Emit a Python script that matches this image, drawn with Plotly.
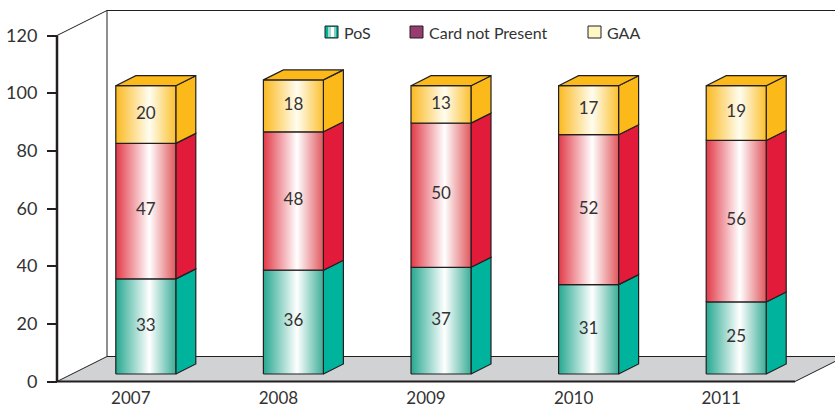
import plotly.graph_objects as go

# ---- data -------------------------------------------------------------
years = ["2007", "2008", "2009", "2010", "2011"]
pos = [33, 36, 37, 31, 25]
card_not_present = [47, 48, 50, 52, 56]
gaa = [20, 18, 13, 17, 19]
series_names = ["PoS", "Card not Present", "GAA"]
y_ticks = [0, 20, 40, 60, 80, 100, 120]

# ---- styling ----------------------------------------------------------
FONT = "Lato, 'Open Sans', sans-serif"
INK = "#231f20"
TEXT = "#333333"
side_colors = ["#00b39c", "#e31b3b", "#fbb91a"]
edge_left = ["#26a890", "#e23a48", "#fbb920"]
edge_right = ["#3cae98", "#e0585e", "#fbc030"]
centre_white = ["#ffffff", "#ffffff", "#fffdf0"]
legend_swatch = ["#00b39c", "#963c6f", "#fcf7c4"]

# ---- frame geometry (pixel scale of the axes) -------------------------
W, H = 835, 408
M_L, M_R, M_T, M_B = 50, 0, 2, 22
plot_w, plot_h = W - M_L - M_R, H - M_T - M_B
px_x = 147.6          # pixels per category
px_y = 2.8833         # pixels per value unit
origin_px = (57, 381.5)

x_lo = -0.5 - (origin_px[0] - M_L) / px_x
x_hi = x_lo + plot_w / px_x
y_lo = -((H - M_B) - origin_px[1]) / px_y
y_hi = y_lo + plot_h / px_y

depth_x = 50 / px_x    # receding depth of the box
depth_y = 25 / px_y
bar_w = 60 / px_x
bar_front = 0.3        # bars sit between 30% and 70% of the depth
bar_depth = 0.4

n = len(years)
x_left, x_right = -0.5, n - 0.5
y_top = y_ticks[-1]

fig = go.Figure()

# ---- bars -------------------------------------------------------------
stacks = [pos, card_not_present, gaa]
label_x, label_y, label_t = [], [], []
for i in range(n):
    cx = i + bar_front * depth_x
    xl, xr = cx - bar_w / 2, cx + bar_w / 2
    base = bar_front * depth_y
    bdx, bdy = bar_depth * depth_x, bar_depth * depth_y
    cum = 0
    for s, vals in enumerate(stacks):
        v = vals[i]
        y0, y1 = base + cum, base + cum + v
        # side face
        fig.add_trace(go.Scatter(
            x=[xr, xr + bdx, xr + bdx, xr, xr],
            y=[y0, y0 + bdy, y1 + bdy, y1, y0],
            mode="lines", fill="toself", fillcolor=side_colors[s],
            line=dict(color=INK, width=1.2),
            hoverinfo="skip", showlegend=False))
        # front face with a cylindrical sheen
        fig.add_trace(go.Scatter(
            x=[xl, xr, xr, xl, xl],
            y=[y0, y0, y1, y1, y0],
            mode="lines", fill="toself",
            fillgradient=dict(type="horizontal",
                              colorscale=[[0, edge_left[s]],
                                          [0.56, centre_white[s]],
                                          [1, edge_right[s]]]),
            line=dict(color=INK, width=1.2),
            hoverinfo="skip", showlegend=False))
        label_x.append(cx)
        label_y.append((y0 + y1) / 2)
        label_t.append(str(v))
        cum += v
    # top face of the stack
    yt = base + cum
    fig.add_trace(go.Scatter(
        x=[xl, xr, xr + bdx, xl + bdx, xl],
        y=[yt, yt, yt + bdy, yt + bdy, yt],
        mode="lines", fill="toself", fillcolor=side_colors[-1],
        line=dict(color=INK, width=1.2),
        hoverinfo="skip", showlegend=False))

fig.add_trace(go.Scatter(
    x=label_x, y=label_y, text=label_t, mode="text",
    textfont=dict(family=FONT, size=17, color=TEXT),
    hoverinfo="skip", showlegend=False))

# ---- box: floor, side wall, back wall, axis lines ---------------------
shapes = []
shapes.append(dict(type="path", xref="x", yref="y", layer="below",
                   path=(f"M{x_left},0 L{x_left + depth_x},{depth_y} "
                         f"L{x_right + depth_x},{depth_y} L{x_right},0 Z"),
                   fillcolor="#d1d2d4", line=dict(color=INK, width=1)))
for (xa, ya, xb, yb) in [
        (x_left + depth_x, depth_y, x_left + depth_x, y_top + depth_y),
        (x_left, y_top, x_left + depth_x, y_top + depth_y),
        (x_left + depth_x, y_top + depth_y, x_right + depth_x, y_top + depth_y)]:
    shapes.append(dict(type="line", xref="x", yref="y", layer="below",
                       x0=xa, y0=ya, x1=xb, y1=yb,
                       line=dict(color=INK, width=1)))
shapes.append(dict(type="line", xref="x", yref="y", layer="below",
                   x0=x_left, y0=0, x1=x_left, y1=y_top,
                   line=dict(color=INK, width=2.5)))
shapes.append(dict(type="line", xref="x", yref="y", layer="below",
                   x0=x_left, y0=0, x1=x_right, y1=0,
                   line=dict(color=INK, width=2)))

# ---- legend -----------------------------------------------------------
def px2paper_x(px):
    return (px - M_L) / plot_w


def px2paper_y(py):
    return (H - M_B - py) / plot_h


legend_px = [325, 410, 588]
sw_top, sw_bot = 26, 38
annotations = []
for k, name in enumerate(series_names):
    x0p = legend_px[k]
    shapes.append(dict(type="rect", xref="paper", yref="paper",
                       x0=px2paper_x(x0p), x1=px2paper_x(x0p + 13),
                       y0=px2paper_y(sw_bot), y1=px2paper_y(sw_top),
                       fillcolor=legend_swatch[k],
                       line=dict(color=INK, width=1)))
    if k == 0:
        # sheen strip on the PoS swatch
        for (a, b, c) in [(3, 6, "#9fdcd0"), (6, 9, "#ffffff"), (9, 11, "#7fd0c0")]:
            shapes.append(dict(type="rect", xref="paper", yref="paper",
                               x0=px2paper_x(x0p + a), x1=px2paper_x(x0p + b),
                               y0=px2paper_y(sw_bot - 1), y1=px2paper_y(sw_top + 1),
                               fillcolor=c, line=dict(width=0)))
    annotations.append(dict(xref="paper", yref="paper",
                            x=px2paper_x(x0p + 17), y=px2paper_y(32),
                            xanchor="left", yanchor="middle",
                            text=name, showarrow=False,
                            font=dict(family=FONT, size=16, color=TEXT)))

# ---- layout -----------------------------------------------------------
fig.update_layout(
    width=W, height=H,
    margin=dict(l=M_L, r=M_R, t=M_T, b=M_B),
    paper_bgcolor="white", plot_bgcolor="white",
    shapes=shapes, annotations=annotations,
    showlegend=False,
    xaxis=dict(range=[x_lo, x_hi], tickvals=list(range(n)), ticktext=years,
               ticks="", showgrid=False, zeroline=False, showline=False,
               anchor="free", position=px2paper_y(origin_px[1]),
               tickfont=dict(family=FONT, size=17, color=TEXT),
               ticklabelstandoff=4),
    xaxis2=dict(range=[x_lo, x_hi], overlaying="x",
                tickvals=[j - 0.5 for j in range(n + 1)],
                showticklabels=False, ticks="outside", ticklen=6,
                tickwidth=2, tickcolor=INK, showgrid=False, zeroline=False,
                showline=False, anchor="free", side="bottom",
                position=px2paper_y(origin_px[1])),
    yaxis=dict(range=[y_lo, y_hi], tickvals=y_ticks, ticks="outside",
               ticklen=10, tickwidth=2, tickcolor=INK,
               showgrid=False, zeroline=False, showline=False,
               anchor="free", position=px2paper_x(origin_px[0]),
               tickfont=dict(family=FONT, size=18, color=TEXT),
               ticklabelstandoff=6),
)

fig.write_html("out.html")
